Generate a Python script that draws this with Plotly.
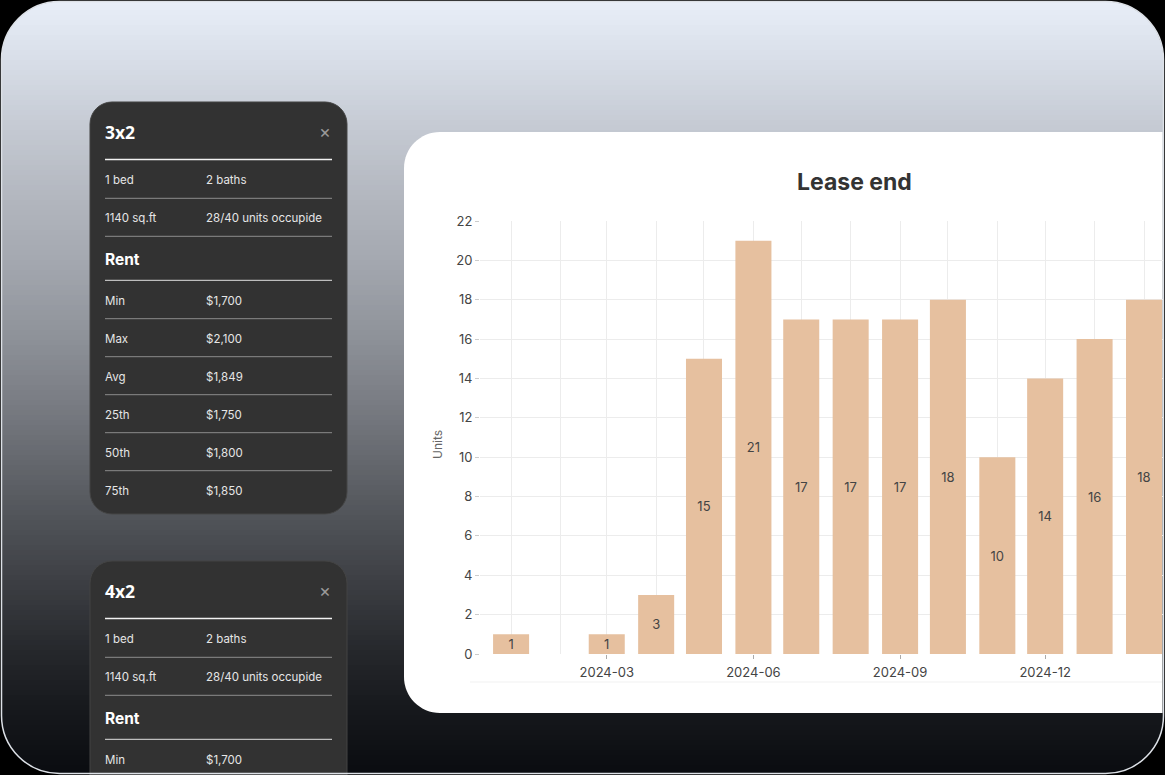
import numpy as np
import plotly.graph_objects as go

# ---------------- data ----------------
months = ['2024-01', '2024-03', '2024-04', '2024-05', '2024-06', '2024-07', '2024-08',
          '2024-09', '2024-10', '2024-11', '2024-12', '2025-01', '2025-02']
units = [1, 1, 3, 15, 21, 17, 17, 17, 18, 10, 14, 16, 18]

chart_title = 'Lease end'
y_title = 'Units'

card_titles = ['3x2', '4x2']
info_rows = [['1 bed', '2 baths'], ['1140 sq.ft', '28/40 units occupide']]
rent_labels = ['Min', 'Max', 'Avg', '25th', '50th', '75th']
rent_values_3x2 = ['$1,700', '$2,100', '$1,849', '$1,750', '$1,800', '$1,850']
rent_values_4x2 = ['$1,700']

# ---------------- helpers (pixel -> paper) ----------------
W, H = 1165, 775
FONT = 'Inter'
TITLE_FONT = 'Open Sans'


def px(x):
    return x / W


def py(y):
    return 1 - y / H


def P(x, y):
    return f'{px(x):.5f},{py(y):.5f}'


def rrect(x0, y0, x1, y1, tl, tr, br, bl):
    k = 0.5523
    s = f'M {P(x0 + tl, y0)} L {P(x1 - tr, y0)} '
    if tr:
        s += f'C {P(x1 - tr + k * tr, y0)} {P(x1, y0 + tr - k * tr)} {P(x1, y0 + tr)} '
    s += f'L {P(x1, y1 - br)} '
    if br:
        s += f'C {P(x1, y1 - br + k * br)} {P(x1 - br + k * br, y1)} {P(x1 - br, y1)} '
    s += f'L {P(x0 + bl, y1)} '
    if bl:
        s += f'C {P(x0 + bl - k * bl, y1)} {P(x0, y1 - bl + k * bl)} {P(x0, y1 - bl)} '
    s += f'L {P(x0, y0 + tl)} '
    if tl:
        s += f'C {P(x0, y0 + tl - k * tl)} {P(x0 + tl - k * tl, y0)} {P(x0 + tl, y0)} '
    return s + 'Z'


shapes = []
annotations = []

# ---------------- gradient background ----------------
stops_y = [0, 60, 130, 200, 260, 330, 400, 460, 520, 590, 650, 710, 775]
stops_c = ['#e9eff9', '#d8dee8', '#c4c9d2', '#b2b6be', '#a4a8b0', '#90949b', '#7a7d84',
           '#65686e', '#505358', '#3a3c41', '#26282c', '#16181c', '#0a0c10']
rgb = np.array([[int(c[i:i + 2], 16) for i in (1, 3, 5)] for c in stops_c], dtype=float)
step = 5
for y in range(0, H, step):
    yc = y + step / 2
    col = [np.interp(yc, stops_y, rgb[:, j]) for j in range(3)]
    shapes.append(dict(type='rect', xref='paper', yref='paper', layer='below',
                       x0=0, x1=1, y0=py(min(y + step + 3, H + 2)), y1=py(y),
                       fillcolor='rgb(%d,%d,%d)' % tuple(int(round(v)) for v in col),
                       line=dict(width=0)))

outer = rrect(1.5, 1.5, 1163.5, 773.5, 58, 58, 58, 58)
ring = f'M {P(-2, -2)} L {P(W + 2, -2)} L {P(W + 2, H + 2)} L {P(-2, H + 2)} Z ' + outer
shapes.append(dict(type='path', xref='paper', yref='paper', layer='below', path=ring,
                   fillcolor='#000000', fillrule='evenodd', line=dict(width=0)))

# ---------------- dark cards ----------------
card_tops = [102, 561]
for ct in card_tops:
    shapes.append(dict(type='path', xref='paper', yref='paper', layer='below',
                       path=rrect(90, ct, 347, ct + 412 if ct == 102 else 820, 22, 22, 22, 22),
                       fillcolor='#323232', line=dict(color='#454545', width=1)))

# white chart card
shapes.append(dict(type='path', xref='paper', yref='paper', layer='below',
                   path=rrect(404, 132, 1162.5, 713, 36, 0, 0, 36),
                   fillcolor='#ffffff', line=dict(width=0)))
# very faint band under the x axis labels
shapes.append(dict(type='line', xref='paper', yref='paper', layer='below',
                   x0=px(470), x1=px(1162), y0=py(682), y1=py(682),
                   line=dict(color='#f8f8f8', width=2)))

# outer border
shapes.append(dict(type='path', xref='paper', yref='paper', layer='below', path=outer,
                   fillcolor='rgba(0,0,0,0)', line=dict(color='#dde1e7', width=1.5)))


def hline(y, color, width):
    shapes.append(dict(type='line', xref='paper', yref='paper', layer='below',
                       x0=px(105), x1=px(332), y0=py(y), y1=py(y),
                       line=dict(color=color, width=width)))


def text(x, y, s, size=11.5, color='#e6e6e6', bold=False, anchor='left', family=FONT):
    annotations.append(dict(xref='paper', yref='paper', x=px(x), y=py(y), text=f'<b>{s}</b>' if bold else s,
                            showarrow=False, xanchor=anchor, yanchor='middle',
                            font=dict(family=family, size=size, color=color)))


card_values = [rent_values_3x2, rent_values_4x2]
for ct, title, vals in zip(card_tops, card_titles, card_values):
    text(103, ct + 29.5, title, size=17.5, color='#ffffff', bold=True, family=TITLE_FONT)
    text(325, ct + 29.5, '×', size=18, color='#9a9a9a', anchor='center')
    hline(ct + 57.5, '#f2f2f2', 1.6)
    for i, (a, b) in enumerate(info_rows):
        yy = ct + 78 + i * 38
        text(103, yy, a)
        text(204, yy, b)
        hline(yy + 18.3, '#8c8c8c', 1)
    text(103, ct + 157.3, 'Rent', size=15.5, color='#ffffff', bold=True)
    hline(ct + 178.3, '#bdbdbd', 1.2)
    for i, (a, b) in enumerate(zip(rent_labels, vals)):
        yy = ct + 198.7 + i * 38
        text(103, yy, a)
        text(204, yy, b)
        if i < len(rent_labels) - 1 and i < len(vals) - 1:
            hline(yy + 18, '#8c8c8c', 1)

# chart title and y title
annotations.append(dict(xref='paper', yref='paper', x=px(854), y=py(182), text=f'<b>{chart_title}</b>',
                        showarrow=False, xanchor='center', yanchor='middle',
                        font=dict(family=FONT, size=23, color='#333333')))
annotations.append(dict(xref='paper', yref='paper', x=px(437), y=py(445), text=y_title, textangle=-90,
                        showarrow=False, xanchor='center', yanchor='middle',
                        font=dict(family=FONT, size=12, color='#666666')))

# ---------------- chart ----------------
fig = go.Figure()
fig.add_trace(go.Bar(
    x=months, y=units, text=units, textposition='inside', insidetextanchor='middle',
    constraintext='none', textangle=0,
    textfont=dict(family=FONT, size=13, color='#444444'),
    marker=dict(color='#e6c09f', line=dict(width=0)),
    width=22.6 * 86400000, hoverinfo='skip'))

grid = '#ececec'
fig.update_layout(
    width=W, height=H, margin=dict(l=0, r=0, t=0, b=0, pad=0, autoexpand=False),
    paper_bgcolor='#000000', plot_bgcolor='rgba(0,0,0,0)',
    showlegend=False, shapes=shapes, annotations=annotations,
    font=dict(family=FONT, color='#444444'),
    xaxis=dict(type='date', domain=[px(480), px(1163)], automargin=False,
               range=['2023-12-12 12:00', '2025-02-12 22:00'],
               dtick='M3', tick0='2024-03-01', tickformat='%Y-%m',
               ticks='outside', ticklen=4, tickcolor='#aaaaaa', ticklabelstandoff=2,
               showgrid=True, gridcolor=grid, gridwidth=1,
               minor=dict(dtick='M1', showgrid=True, gridcolor=grid, gridwidth=1, ticks=''),
               zeroline=False, showline=False,
               tickfont=dict(family=FONT, size=13, color='#444444')),
    yaxis=dict(domain=[py(654), py(221)], range=[0, 22], dtick=2, automargin=False,
               ticks='outside', ticklen=4, tickcolor='#cccccc',
               showgrid=True, gridcolor=grid, gridwidth=1,
               zeroline=False, showline=False,
               tickfont=dict(family=FONT, size=13, color='#444444')),
)

post = ("var gd=document.getElementById('{plot_id}');"
        "gd.style.position='fixed';gd.style.top='0px';gd.style.left='0px';"
        "document.body.style.margin='0';document.body.style.overflow='hidden';"
        "document.documentElement.style.overflow='hidden';")
fig.write_html('out.html', config={'displayModeBar': False}, post_script=post)
